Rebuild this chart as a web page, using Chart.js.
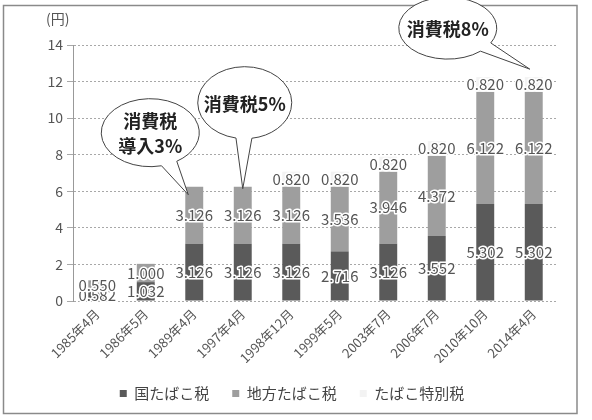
<!DOCTYPE html>
<html><head><meta charset="utf-8">
<script src="https://cdn.jsdelivr.net/npm/chart.js@4.4.1/dist/chart.umd.min.js"></script>
<style>html,body{margin:0;padding:0;background:#fff}</style>
</head><body>
<canvas id="c" width="592" height="420"></canvas>
<script>
// ---- data ----
const categories = ['1985年4月','1986年5月','1989年4月','1997年4月','1998年12月','1999年5月','2003年7月','2006年7月','2010年10月','2014年4月'];
const nationalTax = [0.582, 1.032, 3.126, 3.126, 3.126, 2.716, 3.126, 3.552, 5.302, 5.302];
const localTax    = [0.550, 1.000, 3.126, 3.126, 3.126, 3.536, 3.946, 4.372, 6.122, 6.122];
const specialTax  = [null, null, null, null, 0.820, 0.820, 0.820, 0.820, 0.820, 0.820];
const seriesNames = ['国たばこ税', '地方たばこ税', 'たばこ特別税'];
const yTicks = [0, 2, 4, 6, 8, 10, 12, 14];
const unitLabel = '(円)';
const calloutTexts = [['消費税', '導入3%'], ['消費税5%'], ['消費税8%']];
const calloutIndex = [2, 3, 9];

// ---- annotation styling (not data) ----
const calloutStyle = [
  {tipDx: -6, tipDy: 8, dx: -38, dy: -62, rx: 49, ry: 34},
  {tipDx: 0,  tipDy: 2, dx: 2,  dy: -86, rx: 47, ry: 36},
  {tipDx: -4, tipDy: -8, dx: -82, dy: -41, rx: 49, ry: 31}
];

const FONT = "'Noto Sans CJK JP', 'Noto Sans', sans-serif";
Chart.defaults.font.family = FONT;

const framePlugin = {
  id: 'frame',
  beforeDraw(chart) {
    const ctx = chart.ctx;
    ctx.save();
    ctx.fillStyle = '#fff';
    ctx.fillRect(0, 0, chart.width, chart.height);
    ctx.strokeStyle = '#8a8a8a';
    ctx.lineWidth = 1.5;
    ctx.strokeRect(3.5, 5.5, 573.5, 408);
    ctx.fillStyle = '#555';
    ctx.font = '14px ' + FONT;
    ctx.textAlign = 'left';
    ctx.textBaseline = 'middle';
    ctx.fillText(unitLabel, 46, 19);
    ctx.restore();
  }
};

const labelPlugin = {
  id: 'segLabels',
  afterDatasetsDraw(chart) {
    const ctx = chart.ctx;
    ctx.save();
    ctx.font = '15px ' + FONT;
    ctx.textAlign = 'center';
    ctx.textBaseline = 'middle';
    ctx.lineJoin = 'round';
    chart.data.datasets.forEach((ds, i) => {
      const meta = chart.getDatasetMeta(i);
      meta.data.forEach((el, j) => {
        const v = ds.data[j];
        if (v === null || v === undefined) return;
        const p = el.getProps(['x', 'y', 'base'], true);
        const cy = (p.y + p.base) / 2;
        const t = v.toFixed(3);
        ctx.strokeStyle = '#fff';
        ctx.lineWidth = 3;
        ctx.strokeText(t, p.x, cy);
        ctx.fillStyle = '#555';
        ctx.fillText(t, p.x, cy);
      });
    });
    ctx.restore();
  }
};

const calloutPlugin = {
  id: 'callouts',
  afterDraw(chart) {
    const ctx = chart.ctx;
    const xs = chart.scales.x, ys = chart.scales.y;
    calloutTexts.forEach((lines, k) => {
      const idx = calloutIndex[k];
      const st = calloutStyle[k];
      const total = (nationalTax[idx] || 0) + (localTax[idx] || 0) + (specialTax[idx] || 0);
      const tx = xs.getPixelForValue(idx) + st.tipDx;
      const ty = ys.getPixelForValue(total) + st.tipDy;
      const cx = tx + st.dx, cy = ty + st.dy;
      const th = Math.atan2((ty - cy) / st.ry, (tx - cx) / st.rx);
      const d = 0.17;
      ctx.save();
      ctx.beginPath();
      ctx.ellipse(cx, cy, st.rx, st.ry, 0, th + d, th - d + Math.PI * 2, false);
      ctx.lineTo(tx, ty);
      ctx.closePath();
      ctx.fillStyle = '#fff';
      ctx.fill();
      ctx.strokeStyle = '#444';
      ctx.lineWidth = 1;
      ctx.stroke();
      ctx.fillStyle = '#222';
      ctx.font = 'bold 18px ' + FONT;
      ctx.textAlign = 'center';
      ctx.textBaseline = 'middle';
      const lh = 25;
      lines.forEach((ln, m) => {
        ctx.fillText(ln, cx, cy + (m - (lines.length - 1) / 2) * lh + 1);
      });
      ctx.restore();
    });
  }
};

new Chart(document.getElementById('c'), {
  type: 'bar',
  data: {
    labels: categories,
    datasets: [
      {label: seriesNames[0], data: nationalTax, backgroundColor: '#5a5a5a', borderWidth: 0},
      {label: seriesNames[1], data: localTax, backgroundColor: '#9e9e9e', borderWidth: 0},
      {label: seriesNames[2], data: specialTax, backgroundColor: '#f3f3f3', borderWidth: 0}
    ]
  },
  options: {
    responsive: false,
    animation: false,
    devicePixelRatio: 1,
    datasets: {bar: {categoryPercentage: 1, barPercentage: 0.37}},
    layout: {padding: {left: 26, right: 34, top: 45, bottom: 9}},
    scales: {
      x: {
        stacked: true,
        grid: {display: false, drawTicks: false},
        border: {display: false},
        ticks: {maxRotation: 45, minRotation: 45, autoSkip: false, font: {size: 13}, color: '#555', padding: 5},
        afterFit(s) { s.height = 62; }
      },
      y: {
        stacked: true,
        min: 0, max: 14,
        afterBuildTicks(s) { s.ticks = yTicks.map(v => ({value: v})); },
        grid: {color: '#a8a8a8', tickLength: 6},
        border: {display: true, color: '#999', dash: [2, 2]},
        ticks: {font: {size: 14}, color: '#555', padding: 4},
        afterFit(s) { s.width = 47; }
      }
    },
    plugins: {
      legend: {
        position: 'bottom',
        labels: {boxWidth: 7, boxHeight: 7, padding: 23, font: {size: 15}, color: '#444'}
      },
      tooltip: {enabled: false}
    }
  },
  plugins: [framePlugin, labelPlugin, calloutPlugin]
});
</script>
</body></html>
